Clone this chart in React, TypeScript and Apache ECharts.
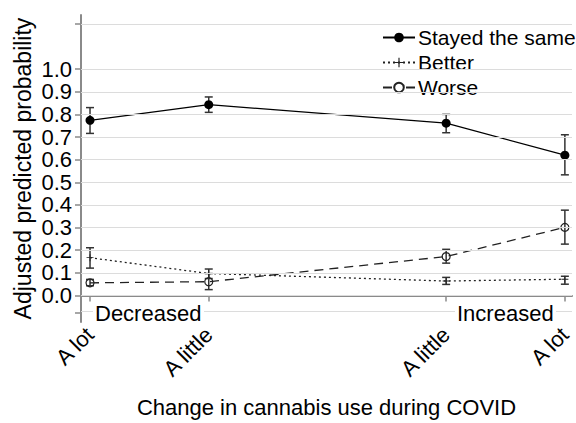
import React, { useEffect, useRef } from "react";
import * as echarts from "echarts";

const xPositions = [1, 2, 4, 5];
const xTickLabels = ["A lot", "A little", "A little", "A lot"];
const yLabelValues = [0, 0.1, 0.2, 0.3, 0.4, 0.5, 0.6, 0.7, 0.8, 0.9, 1.0];
const yTickValues = [-0.075, 0, 0.1, 0.2, 0.3, 0.4, 0.5, 0.6, 0.7, 0.8, 0.9, 1.0, 1.2];
const seriesNames = ["Stayed the same", "Better", "Worse"];

const stayedMean = [0.774, 0.843, 0.761, 0.62];
const stayedLow = [0.716, 0.809, 0.719, 0.533];
const stayedHigh = [0.83, 0.877, 0.8, 0.71];

const betterMean = [0.167, 0.097, 0.064, 0.072];
const betterLow = [0.121, 0.075, 0.049, 0.05];
const betterHigh = [0.211, 0.117, 0.08, 0.085];

const worseMean = [0.056, 0.061, 0.172, 0.301];
const worseLow = [0.043, 0.026, 0.143, 0.227];
const worseHigh = [0.071, 0.097, 0.204, 0.377];

const groupNotes = ["Decreased", "Increased"];

const FONT = "'Liberation Sans', Arial, sans-serif";

function pairs(ys: number[]) {
  return xPositions.map((x, i) => [x, ys[i]]);
}
function bars(lo: number[], hi: number[]) {
  return xPositions.map((x, i) => [x, lo[i], hi[i]]);
}

function errorSeries(name: string, data: number[][], hw: number) {
  return {
    type: "custom",
    name: name + " CI",
    silent: true,
    z: 3,
    encode: { x: 0, y: [1, 2] },
    data,
    renderItem: (params: any, api: any) => {
      const x = api.value(0);
      const pLo = api.coord([x, api.value(1)]);
      const pHi = api.coord([x, api.value(2)]);
      const style = { stroke: "#333", lineWidth: 1.5, fill: "none" };
      return {
        type: "group",
        children: [
          { type: "line", shape: { x1: pLo[0], y1: pLo[1], x2: pHi[0], y2: pHi[1] }, style },
          { type: "line", shape: { x1: pLo[0] - hw, y1: pLo[1], x2: pLo[0] + hw, y2: pLo[1] }, style },
          { type: "line", shape: { x1: pHi[0] - hw, y1: pHi[1], x2: pHi[0] + hw, y2: pHi[1] }, style },
        ],
      };
    },
  };
}

const plusPath =
  "path://M-0.12,-1H0.12V-0.12H1V0.12H0.12V1H-0.12V0.12H-1V-0.12H-0.12Z";

export default function App() {
  const ref = useRef<HTMLDivElement>(null);
  useEffect(() => {
    if (!ref.current) return;
    const chart = echarts.init(ref.current, undefined, { renderer: "svg" });
    const option: any = {
      animation: false,
      backgroundColor: "#fff",
      textStyle: { fontFamily: FONT },
      grid: { left: 81, right: 4, top: 15, bottom: 96, containLabel: false },
      legend: {
        data: [
          { name: seriesNames[0] },
          { name: seriesNames[1], lineStyle: { type: [2, 3] } },
          { name: seriesNames[2], lineStyle: { type: [9, 14] } },
        ],
        orient: "vertical",
        left: 374,
        top: 21,
        backgroundColor: "#fff",
        padding: [6, 2, 5, 8],
        itemGap: 4,
        itemWidth: 32,
        itemHeight: 12,
        textStyle: { fontSize: 21, fontFamily: FONT, color: "#000", padding: [0, 0, 0, -2] },
      },
      xAxis: {
        type: "value",
        min: 0.924,
        max: 5.06,
        name: "Change in cannabis use during COVID",
        nameLocation: "middle",
        nameGap: 74,
        nameTextStyle: { fontSize: 22, color: "#000", fontFamily: FONT },
        axisLine: { show: true, lineStyle: { color: "#8a8a8a", width: 2 } },
        axisTick: { show: true, length: 6, customValues: xPositions, lineStyle: { color: "#8a8a8a", width: 1.5 } },
        axisLabel: {
          customValues: xPositions,
          rotate: 45,
          margin: 9,
          fontSize: 22,
          color: "#000",
          fontFamily: FONT,
          showMinLabel: true,
          showMaxLabel: true,
          hideOverlap: false,
          formatter: (v: number) => {
            const i = xPositions.indexOf(Math.round(v));
            return i >= 0 ? xTickLabels[i] : "";
          },
        },
        splitLine: { show: false },
      },
      yAxis: {
        type: "value",
        min: -0.117,
        max: 1.239,
        name: "Adjusted predicted probability",
        nameLocation: "middle",
        nameGap: 47,
        nameMoveOverlap: false,
        nameTextStyle: { fontSize: 23, color: "#000", fontFamily: FONT },
        axisLine: { show: true, lineStyle: { color: "#8a8a8a", width: 2 } },
        axisTick: { show: true, length: 6, customValues: yTickValues, lineStyle: { color: "#8a8a8a", width: 1.5 } },
        axisLabel: {
          customValues: yLabelValues,
          margin: 9,
          fontSize: 22,
          lineHeight: 22,
          color: "#000",
          fontFamily: FONT,
          showMinLabel: true,
          showMaxLabel: true,
          hideOverlap: false,
          formatter: (v: number) => v.toFixed(1),
        },
        splitLine: { show: false },
      },
      graphic: [
        {
          type: "rect",
          zlevel: 1,
          z: 100,
          silent: true,
          shape: { x: 93, y: 305, width: 111, height: 17 },
          style: { fill: "#ffffff", stroke: "none" },
        },
        {
          type: "rect",
          zlevel: 1,
          z: 100,
          silent: true,
          shape: { x: 455, y: 305, width: 101, height: 17 },
          style: { fill: "#ffffff", stroke: "none" },
        },
        {
          type: "text",
          left: 95,
          top: 302,
          zlevel: 1,
          z: 101,
          style: { text: groupNotes[0], fontSize: 22, fontFamily: FONT, fill: "#000" },
        },
        {
          type: "text",
          left: 457,
          top: 302,
          zlevel: 1,
          z: 101,
          style: { text: groupNotes[1], fontSize: 22, fontFamily: FONT, fill: "#000" },
        },
      ],
      series: [
        {
          type: "line",
          name: "grid",
          data: [],
          z: 1,
          silent: true,
          markLine: {
            silent: true,
            symbol: "none",
            label: { show: false },
            lineStyle: { color: "#dcdcdc", width: 1, type: "solid" },
            data: yTickValues.map((v) => ({ yAxis: v })),
          },
        },
        errorSeries("Stayed", bars(stayedLow, stayedHigh), 4),
        errorSeries("Better", bars(betterLow, betterHigh), 4),
        errorSeries("Worse", bars(worseLow, worseHigh), 4),
        {
          type: "line",
          name: seriesNames[0],
          data: pairs(stayedMean),
          z: 4,
          symbol: "circle",
          symbolSize: 9,
          lineStyle: { color: "#000", width: 1.3, type: "solid" },
          itemStyle: { color: "#000" },
        },
        {
          type: "line",
          name: seriesNames[1],
          data: pairs(betterMean),
          z: 4,
          symbol: plusPath,
          symbolSize: 7,
          lineStyle: { color: "#222", width: 1.3, type: [2, 3] },
          itemStyle: { color: "#222" },
        },
        {
          type: "line",
          name: seriesNames[2],
          data: pairs(worseMean),
          z: 4,
          symbol: "circle",
          symbolSize: 8,
          lineStyle: { color: "#222", width: 1.3, type: [9, 6] },
          itemStyle: { color: "rgba(0,0,0,0)", borderColor: "#222", borderWidth: 1.2 },
        },
      ],
    };
    chart.setOption(option);
    return () => chart.dispose();
  }, []);
  return (
    <div
      ref={ref}
      style={{ position: "fixed", left: 0, top: 0, width: 576, height: 423 }}
    />
  );
}
